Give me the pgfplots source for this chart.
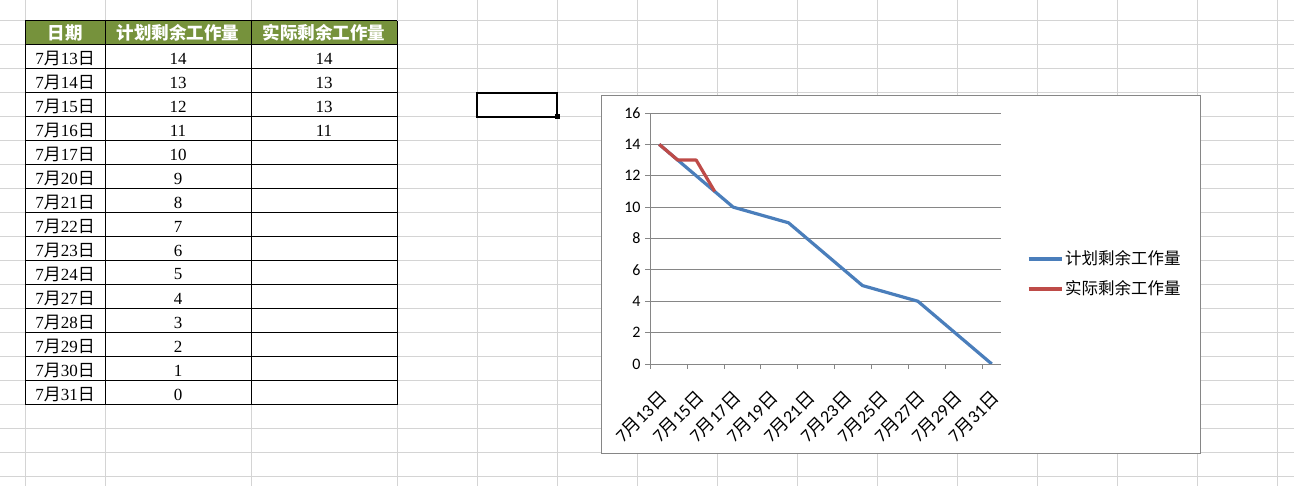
\documentclass[border=0pt]{standalone}
\usepackage{fontspec}
\setmainfont{Carlito}
\newfontfamily\cjk{Noto Sans CJK SC}
\newfontfamily\serif{Liberation Serif}
\usepackage{pgfplots}
\pgfplotsset{compat=1.18}
\definecolor{xlgrid}{HTML}{D4D4D4}
\definecolor{olivehd}{HTML}{76923C}
\definecolor{cgray}{HTML}{868686}
\definecolor{bl}{HTML}{4A7EBB}
\definecolor{rd}{HTML}{BE4B48}
\newcommand\td[1]{{\serif 7}{\cjk 月}{\serif #1}{\cjk 日}}
\newcommand\cd[1]{7{\cjk 月}#1{\cjk 日}}
\begin{document}
\begin{tikzpicture}[x=1pt,y=1pt]
\useasboundingbox (0,0) rectangle (1294,486);
\fill[white] (0,0) rectangle (1294,486);
% spreadsheet grid
\foreach \x in {25,105,251,397,477,...,1277} \draw[xlgrid, line width=1pt] (\x,0) -- (\x,486);
\foreach \k in {0,...,19} \draw[xlgrid, line width=1pt] (0,{465-24*\k}) -- (1294,{465-24*\k});
% table header
\fill[olivehd] (25,465) rectangle (397,441);
\node[white, font=\cjk\bfseries\fontsize{17.5}{20}\selectfont] at (65,453) {日期};
\node[white, font=\cjk\bfseries\fontsize{17.5}{20}\selectfont] at (178,453) {计划剩余工作量};
\node[white, font=\cjk\bfseries\fontsize{17.5}{20}\selectfont] at (324,453) {实际剩余工作量};
% table body
\foreach \d [count=\i] in {13,14,15,16,17,20,21,22,23,24,27,28,29,30,31}
  \node[font=\fontsize{17}{20}\selectfont] at (65,{451.5-24*\i}) {\td{\d}};
\foreach \v [count=\i] in {14,13,12,11,10,9,8,7,6,5,4,3,2,1,0}
  \node[font=\serif\fontsize{17}{20}\selectfont] at (178,{451.5-24*\i}) {\v};
\foreach \v [count=\i] in {14,13,13,11}
  \node[font=\serif\fontsize{17}{20}\selectfont] at (324,{451.5-24*\i}) {\v};
\foreach \x in {25,105,251,397} \draw[black, line width=1pt] (\x,465) -- (\x,81);
\foreach \k in {0,...,16} \draw[black, line width=1pt] (25,{465-24*\k}) -- (397,{465-24*\k});
% selected cell
\draw[black, line width=2.5pt] (477,393) rectangle (557,369);
\fill[black] (554.5,366.5) rectangle (559.5,371.5);
% chart area
\filldraw[fill=white, draw=cgray, line width=1pt] (601,390) rectangle (1200,32);
\begin{axis}[at={(650pt,122pt)}, anchor=south west,
  width=351pt, height=251pt, scale only axis,
  xmin=13, xmax=32, ymin=0, ymax=16,
  xtick={13,15,...,31},
  xticklabels={\cd{13},\cd{15},\cd{17},\cd{19},\cd{21},\cd{23},\cd{25},\cd{27},\cd{29},\cd{31}},
  ytick={0,2,...,16},
  axis x line=bottom, axis y line=left,
  axis line style={-, draw=cgray, line width=0.8pt},
  tick align=outside, major tick length=5pt,
  tick style={draw=cgray, line width=0.8pt},
  ymajorgrids, grid style={draw=cgray, line width=0.8pt},
  ticklabel style={font=\fontsize{16}{19}\selectfont},
  yticklabel style={xshift=-1pt},
  xticklabel style={font=\fontsize{18}{21}\selectfont, xshift=8pt, yshift=-15pt, rotate=45, anchor=north east},
  /pgf/number format/assume math mode=true,
  legend cell align=left,
  legend image code/.code={\draw[#1] (0pt,0pt) -- (33pt,0pt);},
  legend style={at={(1.074,0.3586)}, anchor=west, draw=none, fill=none,
    inner sep=0pt, outer sep=0pt,
    font=\cjk\fontsize{16.5}{19}\selectfont, row sep=14pt, column sep=2pt,
    nodes={inner sep=0pt, outer sep=0pt, text height=14pt, text depth=2pt}},
]
\addplot[bl, line width=3.2pt, line join=round] coordinates {(13.5,14) (14.5,13) (15.5,12) (16.5,11) (17.5,10) (20.5,9) (21.5,8) (22.5,7) (23.5,6) (24.5,5) (27.5,4) (28.5,3) (29.5,2) (30.5,1) (31.5,0)};
\addplot[rd, line width=3.2pt, line join=round] coordinates {(13.5,14) (14.5,13) (15.5,13) (16.5,11)};
\legend{计划剩余工作量,实际剩余工作量}
\end{axis}
\end{tikzpicture}
\end{document}
